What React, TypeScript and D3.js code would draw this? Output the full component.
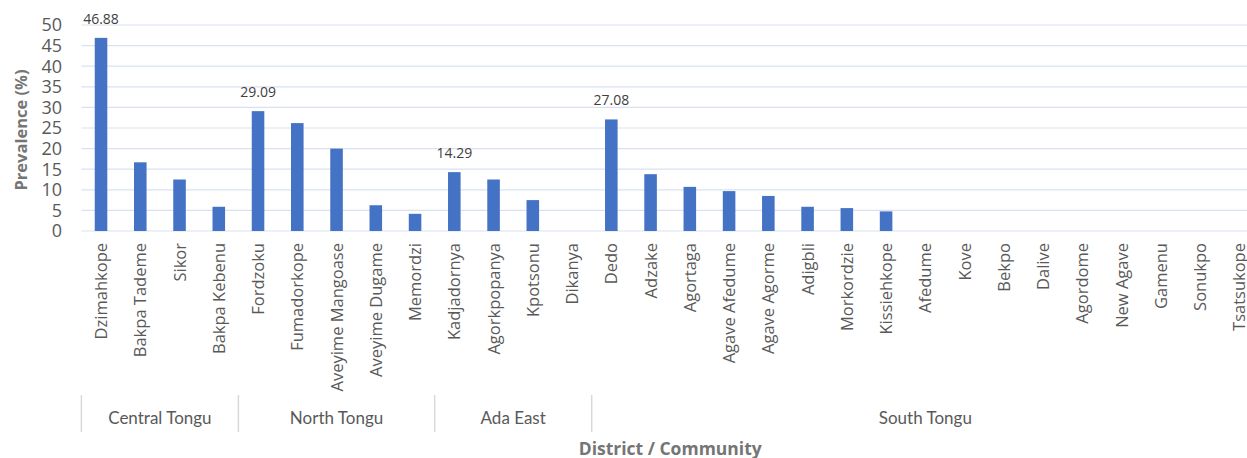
import React from "react";
import * as d3 from "d3";

const districts = ["Central Tongu", "North Tongu", "Ada East", "South Tongu"];
const districtSizes = [4, 5, 4, 17];
const communities = [
  "Dzimahkope", "Bakpa Tademe", "Sikor", "Bakpa Kebenu",
  "Fordzoku", "Fumadorkope", "Aveyime Mangoase", "Aveyime Dugame", "Memordzi",
  "Kadjadornya", "Agorkpopanya", "Kpotsonu", "Dikanya",
  "Dedo", "Adzake", "Agortaga", "Agave Afedume", "Agave Agorme", "Adigbli", "Morkordzie", "Kissiehkope",
  "Afedume", "Kove", "Bekpo", "Dalive", "Agordome", "New Agave", "Gamenu", "Sonukpo", "Tsatsukope",
];
const prevalence = [
  46.88, 16.67, 12.5, 5.88,
  29.09, 26.19, 20.0, 6.25, 4.17,
  14.29, 12.5, 7.5, 0,
  27.08, 13.79, 10.71, 9.68, 8.51, 5.88, 5.56, 4.76,
  0, 0, 0, 0, 0, 0, 0, 0, 0,
];
const labelled = ["Dzimahkope", "Fordzoku", "Kadjadornya", "Dedo"];
const yTicks = [0, 5, 10, 15, 20, 25, 30, 35, 40, 45, 50];

const W = 1247;
const H = 458;
const left = 81.4;
const right = 1259;
const top = 25;
const bottom = 231;

export default function App() {
  const x = d3.scaleBand<string>().domain(communities).range([left, right]).paddingInner(0.68).paddingOuter(0.34);
  const step = x.step();
  const y = d3.scaleLinear().domain([0, 50]).range([bottom, top]);
  const font = "'Open Sans', sans-serif";
  const grey = "#595959";
  const titleGrey = "#757575";

  const bounds: number[] = [left];
  let acc = 0;
  districtSizes.forEach((s) => {
    acc += s;
    bounds.push(left + acc * step);
  });

  return (
    <svg width={W} height={H} style={{ position: "absolute", left: 0, top: 0, background: "#fff" }}>
      {yTicks.map((t) => (
        <g key={t}>
          <line x1={left} x2={W} y1={y(t)} y2={y(t)} stroke="#d9e1f0" strokeWidth={1.2} />
          <text x={62} y={y(t)} dy="0.36em" textAnchor="end" fontFamily={font} fontSize={18} fill={grey}>
            {t}
          </text>
        </g>
      ))}
      {communities.map((c, i) => (
        <rect
          key={c}
          x={x(c)}
          y={y(prevalence[i])}
          width={x.bandwidth()}
          height={bottom - y(prevalence[i])}
          fill="#4472C4"
        />
      ))}
      {communities.map((c, i) =>
        labelled.includes(c) ? (
          <text
            key={"l" + c}
            x={(x(c) as number) + x.bandwidth() / 2}
            y={y(prevalence[i]) - 14}
            textAnchor="middle"
            fontFamily={font}
            fontSize={14}
            fill="#404040"
          >
            {prevalence[i].toFixed(2)}
          </text>
        ) : null
      )}
      {communities.map((c) => {
        const cx = (x(c) as number) + x.bandwidth() / 2;
        return (
          <text
            key={"c" + c}
            transform={`translate(${cx + 6},${243}) rotate(-90)`}
            textAnchor="end"
            fontFamily={font}
            fontSize={16.5}
            fill={grey}
          >
            {c}
          </text>
        );
      })}
      {bounds.map((b, i) => (
        <line key={"b" + i} x1={b} x2={b} y1={395} y2={432} stroke="#d9d9d9" strokeWidth={1.5} />
      ))}
      {districts.map((d, i) => (
        <text
          key={d}
          x={(bounds[i] + bounds[i + 1]) / 2}
          y={418}
          dy="0.35em"
          textAnchor="middle"
          fontFamily="Lato, sans-serif"
          fontSize={17}
          fill={grey}
        >
          {d}
        </text>
      ))}
      <text
        transform={`translate(27,${(top + bottom) / 2 + 2}) rotate(-90)`}
        textAnchor="middle"
        fontFamily={font}
        fontWeight="bold"
        fontSize={16.5}
        fill={titleGrey}
      >
        Prevalence (%)
      </text>
      <text
        x={(left + right) / 2}
        y={449}
        dy="0.35em"
        textAnchor="middle"
        fontFamily={font}
        fontWeight="bold"
        fontSize={17.5}
        fill={titleGrey}
      >
        District / Community
      </text>
    </svg>
  );
}
